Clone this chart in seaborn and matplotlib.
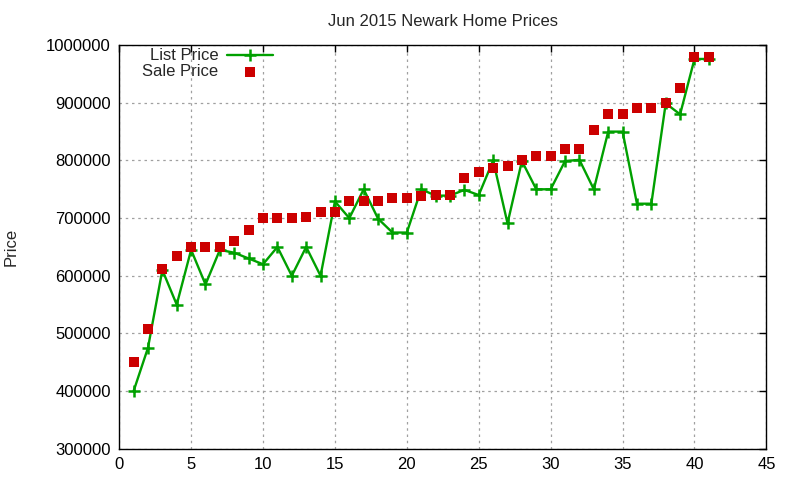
import numpy as np
import pandas as pd
import seaborn as sns
import matplotlib.pyplot as plt
from matplotlib.ticker import MultipleLocator, FormatStrFormatter

# home index (sorted by price)
homes = list(range(1, 42))
list_price = [400000, 475000, 610000, 550000, 645000, 585000, 645000, 640000, 630000, 620000,
              650000, 600000, 650000, 600000, 729000, 700000, 750000, 699000, 675000, 675000,
              750000, 739000, 739000, 749000, 740000, 800000, 691000, 799000, 750000, 750000,
              799000, 801000, 750000, 850000, 850000, 725000, 725000, 899000, 880000, 976000,
              976000]
sale_price = [450000, 507000, 612000, 634000, 650000, 650000, 650000, 661000, 680000, 700000,
              700000, 700000, 702000, 711000, 711000, 730000, 730000, 730000, 735000, 735000,
              738000, 740000, 740000, 770000, 780000, 787000, 791000, 800000, 808000, 808000,
              820000, 820000, 853000, 880000, 880000, 891000, 891000, 900000, 926000, 980000,
              980000]

df = pd.DataFrame({"home": homes, "list": list_price, "sale": sale_price})

sns.set_style("white")
plt.rcParams['font.family'] = ['Liberation Sans', 'DejaVu Sans']

fig = plt.figure(figsize=(8, 4.8), dpi=100)
ax = fig.add_axes([0.149, 0.065, 0.809, 0.841])

green = '#00a000'
red = '#cc0000'

sns.lineplot(data=df, x="home", y="list", ax=ax, color=green, linewidth=1.7,
             marker='+', markersize=8, markeredgewidth=1.8, markeredgecolor=green,
             label="List Price")
sns.scatterplot(data=df, x="home", y="sale", ax=ax, color=red, marker='s', s=52,
                linewidth=0, label="Sale Price", zorder=3)

ax.set_xlim(0, 45)
ax.set_ylim(300000, 1000000)
ax.xaxis.set_major_locator(MultipleLocator(5))
ax.yaxis.set_major_locator(MultipleLocator(100000))
ax.yaxis.set_major_formatter(FormatStrFormatter('%d'))
ax.tick_params(direction='in', top=True, right=True, length=5, width=1, labelsize=12,
               colors='black', pad=6)
ax.grid(True, color='#a0a0a0', linestyle=(0, (2, 3)), linewidth=0.9)
for s in ax.spines.values():
    s.set_color('black')
    s.set_linewidth(1)

ax.set_title("Jun 2015 Newark Home Prices", fontsize=12, pad=14)
ax.set_xlabel("")
ax.set_ylabel("Price", fontsize=12, labelpad=20)

ax.legend(loc='upper right', bbox_to_anchor=(0.259, 1.025), markerfirst=False,
          frameon=False, fontsize=12, handlelength=2.8, borderpad=0.3,
          labelspacing=0.05, handletextpad=0.5)

fig.savefig("out.png", dpi=100)
